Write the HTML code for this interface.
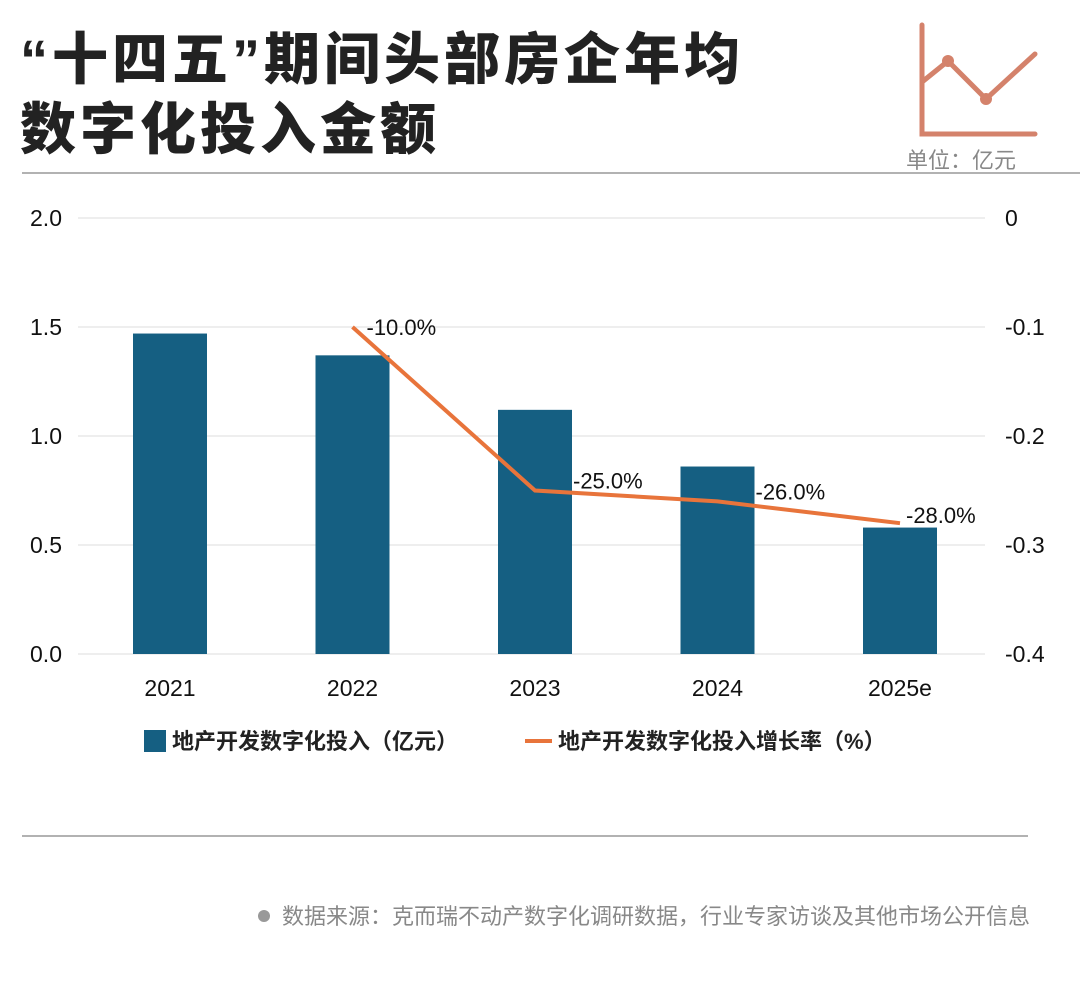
<!DOCTYPE html>
<html><head><meta charset="utf-8"><style>
body{margin:0;width:1080px;height:1004px;background:#fff;font-family:"Liberation Sans","Noto Sans CJK SC",sans-serif;overflow:hidden;position:relative}
.t{position:absolute;left:20px;font-size:56px;letter-spacing:4px;font-weight:900;color:#222;line-height:70px}
</style></head><body>
<div class="t" style="top:25px">“十四五”期间头部房企年均</div>
<div class="t" style="top:95px">数字化投入金额</div>
<svg width="1080" height="1004" style="position:absolute;left:0;top:0" id="c">
<g stroke="#d4826b" stroke-width="5" fill="none" stroke-linecap="round">
<path d="M922 25V134H1035"/><path d="M922 82L948 61L986 99L1035 54"/>
<circle cx="948" cy="61" r="6" fill="#d4826b" stroke="none"/><circle cx="986" cy="99" r="6" fill="#d4826b" stroke="none"/>
</g>
<text x="906" y="168" font-size="22" fill="#888">单位：亿元</text>
<line x1="22" y1="173" x2="1080" y2="173" stroke="#999" stroke-width="1.5"/>
<line x1="22" y1="836" x2="1028" y2="836" stroke="#999" stroke-width="1.5"/>
<circle cx="264" cy="916" r="6" fill="#999"/>
<text x="282" y="924" font-size="22" fill="#888">数据来源：克而瑞不动产数字化调研数据，行业专家访谈及其他市场公开信息</text>
<g id="plot"></g>
<g>
<rect x="144" y="730" width="22" height="22" fill="#155f82"/>
<text x="172" y="749" font-size="22" font-weight="bold" fill="#222">地产开发数字化投入（亿元）</text>
<line x1="525" y1="741" x2="552" y2="741" stroke="#e8743b" stroke-width="4"/>
<text x="558" y="749" font-size="22" font-weight="bold" fill="#222">地产开发数字化投入增长率（%）</text>
</g>
</svg>
<script>
const categories=["2021","2022","2023","2024","2025e"];
const barValues=[1.47,1.37,1.12,0.86,0.58];
const rateValues=[null,-0.10,-0.25,-0.26,-0.28];
const rateLabels=["","-10.0%","-25.0%","-26.0%","-28.0%"];
const leftTicks=[0,0.5,1.0,1.5,2.0];
const rightTicks=[0,-0.1,-0.2,-0.3,-0.4];
const NS="http://www.w3.org/2000/svg";
const g=document.getElementById("plot");
const top0=218,bot=654;
const yL=v=>bot-(v/2)*(bot-top0);
const yR=v=>top0+(v/-0.4)*(bot-top0);
const xC=i=>170+i*182.5;
function mk(t,a){const e=document.createElementNS(NS,t);for(const k in a)e.setAttribute(k,a[k]);g.appendChild(e);return e;}
leftTicks.forEach((v,i)=>{
 const l=mk("line",{x1:78,x2:985,y1:yL(v),y2:yL(v),stroke:"#ddd","stroke-width":1});
 
 
 const t=mk("text",{x:62,y:yL(v)+8,"text-anchor":"end","font-size":23,fill:"#111"});t.textContent=v.toFixed(1);
 
 
});
rightTicks.forEach(v=>{
 const t=mk("text",{x:1005,y:yR(v)+8,"font-size":23,fill:"#111"});t.textContent=v===0?"0":String(v);
 
 
});
categories.forEach((c,i)=>{
 const r=mk("rect",{x:xC(i)-37,width:74,y:yL(barValues[i]),height:bot-yL(barValues[i]),fill:"#155f82"});
 
 
 const t=mk("text",{x:xC(i),y:696,"text-anchor":"middle","font-size":23,fill:"#111"});t.textContent=c;
 
 
});
let d="";
rateValues.forEach((v,i)=>{if(v===null)return;d+=(d?"L":"M")+xC(i)+" "+yR(v);});
const p=mk("path",{d:d,fill:"none",stroke:"#e8743b","stroke-width":4});


rateValues.forEach((v,i)=>{if(v===null)return;
 const x=xC(i),y=yR(v);
 const t=mk("text",{x:x+(i===1?14:i===4?6:38),y:y+(i===1?8:i===4?0:-2),"font-size":22,fill:"#111"});t.textContent=rateLabels[i];
 
 
});
</script>
</body></html>
